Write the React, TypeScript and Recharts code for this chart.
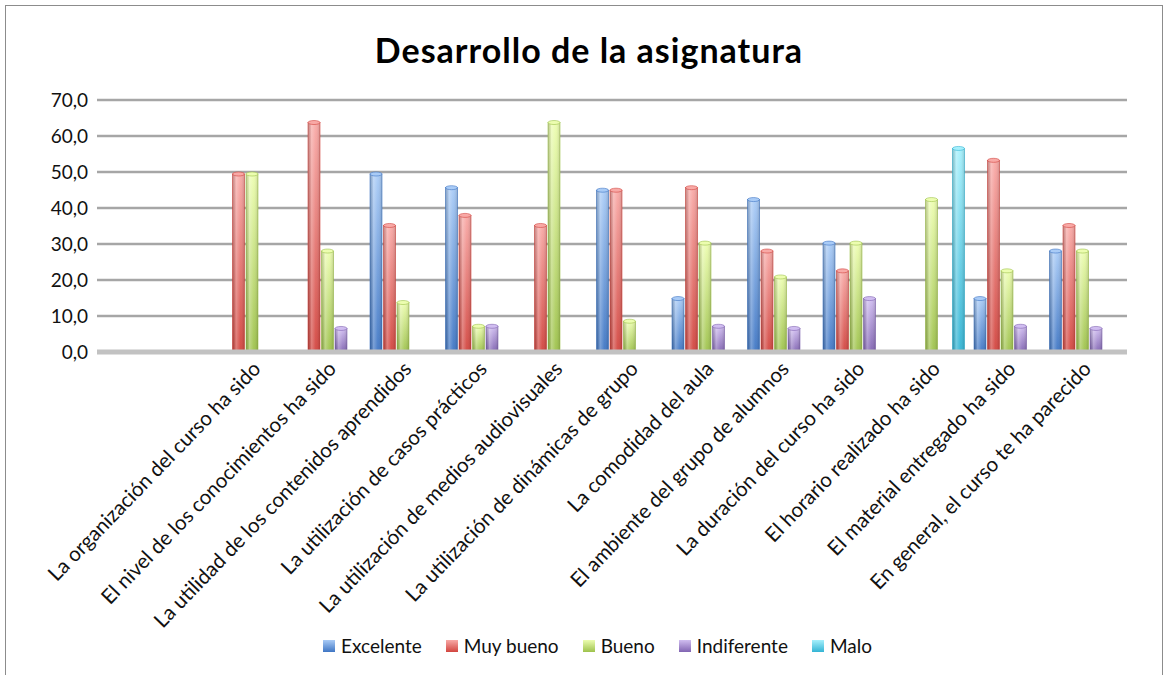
import React from 'react';
import { BarChart, Bar, XAxis, YAxis, CartesianGrid } from 'recharts';

const categories = [
  'La organización del curso ha sido',
  'El nivel de los conocimientos ha sido',
  'La utilidad de los contenidos aprendidos',
  'La utilización de casos prácticos',
  'La utilización de medios audiovisuales',
  'La utilización de dinámicas de grupo',
  'La comodidad del aula',
  'El ambiente del grupo de alumnos',
  'La duración del curso ha sido',
  'El horario realizado ha sido',
  'El material entregado ha sido',
  'En general, el curso te ha parecido',
];

const excelente = [0, 0, 50.0, 46.2, 0, 45.5, 15.4, 42.9, 30.8, 0, 15.4, 28.6];
const muyBueno = [50.0, 64.3, 35.7, 38.5, 35.7, 45.5, 46.2, 28.6, 23.1, 0, 53.8, 35.7];
const bueno = [50.0, 28.6, 14.3, 7.7, 64.3, 9.1, 30.8, 21.4, 30.8, 42.9, 23.1, 28.6];
const indiferente = [0, 7.1, 0, 7.7, 0, 0, 7.7, 7.1, 15.4, 0, 7.7, 7.1];
const malo = [0, 0, 0, 0, 0, 0, 0, 0, 0, 57.1, 0, 0];

const seriesNames = ['Excelente', 'Muy bueno', 'Bueno', 'Indiferente', 'Malo'];
const yTicks = [0, 10, 20, 30, 40, 50, 60, 70];

const data = categories.map((name, i) => ({
  name,
  Excelente: excelente[i],
  'Muy bueno': muyBueno[i],
  Bueno: bueno[i],
  Indiferente: indiferente[i],
  Malo: malo[i],
}));

// light top / dark bottom for each series
const palette = [
  { light: '#a9cbf6', dark: '#3f76c4' },
  { light: '#f8a9a6', dark: '#d2453f' },
  { light: '#ecfdb0', dark: '#9ec24c' },
  { light: '#d0bdf0', dark: '#8164b2' },
  { light: '#a6f0fc', dark: '#33b4d4' },
];

const FONT = 'Lato, "Open Sans", sans-serif';

function Cylinder(props: any) {
  const { x, y, width, height, idx } = props;
  const c = palette[idx];
  if (!height || height < 0.5) {
    // zero values show as flat tiles on the floor
    return <rect x={x} y={y - 2} width={width} height={3} fill={c.dark} opacity={0.55} />;
  }
  const ry = 2;
  return (
    <g>
      <rect x={x} y={y + ry} width={width} height={height - ry} fill={`url(#v${idx})`} stroke={c.dark} strokeWidth={0.6} />
      <rect x={x} y={y + ry} width={width} height={height - ry} fill="url(#hshade)" />
      <ellipse cx={x + width / 2} cy={y + ry} rx={width / 2} ry={ry} fill={c.light} stroke={c.dark} strokeWidth={0.6} />
    </g>
  );
}

function XTick(props: any) {
  const { x, y, payload } = props;
  return (
    <g transform={`translate(${x + 10},${y + 10}) rotate(-46)`}>
      <text textAnchor="end" fontSize={20.5} fontFamily={FONT} fill="#111">
        {payload.value}
      </text>
    </g>
  );
}

export default function App() {
  return (
    <div style={{ position: 'absolute', left: 0, top: 0, width: 1171, height: 675, background: '#fff', overflow: 'hidden' }}>
      <div
        style={{
          position: 'absolute',
          left: 5,
          top: 5,
          width: 1158,
          height: 700,
          border: '1px solid #8c8c8c',
          boxSizing: 'border-box',
        }}
      />
      <div
        style={{
          position: 'absolute',
          left: 0,
          top: 29,
          width: 1178,
          textAlign: 'center',
          fontFamily: FONT,
          fontWeight: 700,
          fontSize: 34,
          letterSpacing: 1,
          color: '#000',
        }}
      >
        Desarrollo de la asignatura
      </div>
      <BarChart
        width={1171}
        height={675}
        data={data}
        margin={{ top: 100, right: 44, left: 0, bottom: 0 }}
        barSize={12}
        barGap={1.5}
        style={{ position: 'absolute', left: 0, top: 0 }}
      >
        <defs>
          {palette.map((c, i) => (
            <linearGradient key={i} id={`v${i}`} x1="0" y1="0" x2="0" y2="1">
              <stop offset="0%" stopColor={c.light} />
              <stop offset="100%" stopColor={c.dark} />
            </linearGradient>
          ))}
          <linearGradient id="hshade" x1="0" y1="0" x2="1" y2="0">
            <stop offset="0%" stopColor="#000" stopOpacity={0.18} />
            <stop offset="30%" stopColor="#fff" stopOpacity={0.3} />
            <stop offset="65%" stopColor="#fff" stopOpacity={0.05} />
            <stop offset="100%" stopColor="#000" stopOpacity={0.15} />
          </linearGradient>
        </defs>
        <CartesianGrid vertical={false} stroke="#a6a6a6" strokeWidth={2.5} />
        <XAxis
          dataKey="name"
          interval={0}
          height={323}
          padding={{ left: 117, right: 7 }}
          tick={<XTick />}
          tickLine={false}
          axisLine={{ stroke: '#c2c2c2', strokeWidth: 5 }}
        />
        <YAxis
          width={97}
          domain={[0, 70]}
          ticks={yTicks}
          interval={0}
          tickSize={0}
          tickMargin={9}
          axisLine={false}
          tickLine={false}
          tickFormatter={(v: number) => v.toFixed(1).replace('.', ',')}
          tick={{ fontSize: 19, fontFamily: FONT, fill: '#111' }}
        />
        {seriesNames.map((s, i) => (
          <Bar key={s} dataKey={s} isAnimationActive={false} shape={(p: any) => <Cylinder {...p} idx={i} />} />
        ))}
      </BarChart>
      <div
        style={{
          position: 'absolute',
          left: 323,
          top: 634,
          display: 'flex',
          alignItems: 'center',
          gap: 24,
          fontFamily: FONT,
          fontSize: 19,
          color: '#111',
        }}
      >
        {seriesNames.map((s, i) => (
          <div key={s} style={{ display: 'flex', alignItems: 'center' }}>
            <span
              style={{
                display: 'inline-block',
                width: 12,
                height: 12,
                marginRight: 6,
                background: `linear-gradient(${palette[i].light}, ${palette[i].dark})`,
              }}
            />
            <span>{s}</span>
          </div>
        ))}
      </div>
    </div>
  );
}
